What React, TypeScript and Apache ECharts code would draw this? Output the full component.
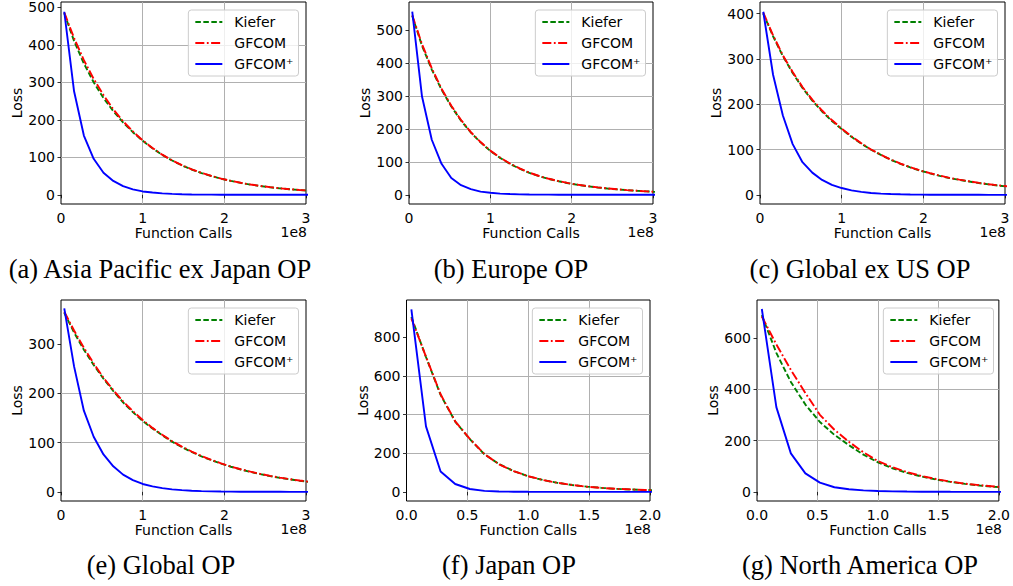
import React, { useEffect, useRef } from "react";
import * as echarts from "echarts";

// ---- data (function calls in units of 1e8) ----
const callsE8 = [
  0.04, 0.16, 0.28, 0.40, 0.52, 0.64, 0.76, 0.88, 1.00, 1.12, 1.24, 1.36, 1.48,
  1.60, 1.72, 1.84, 1.96, 2.08, 2.20, 2.32, 2.44, 2.56, 2.68, 2.80, 2.92, 3.04,
];
const seriesNames = ["Kiefer", "GFCOM", "GFCOM\u207A"];
const captions = [
  "(a) Asia Pacific ex Japan OP",
  "(b) Europe OP",
  "(c) Global ex US OP",
  "(e) Global OP",
  "(f) Japan OP",
  "(g) North America OP",
];

// (a) Asia Pacific ex Japan OP
const kieferA = [484, 410, 350, 300, 258, 223, 193, 167, 144, 124, 106.5, 91.5, 78.5, 67.5, 58, 50, 43, 37, 31.7, 27.2, 23.4, 20.1, 17.2, 14.8, 12.7, 11];
const gfcomA = [486, 418, 359, 309, 266, 228, 196, 169, 145, 125, 107, 92, 79, 68, 58.6, 50.4, 43.3, 37.2, 32, 27.5, 23.7, 20.4, 17.5, 15, 12.9, 11.1];
const gfcomPlusA = [488, 276, 158, 96, 59, 37, 23, 14.5, 9, 6, 3.8, 2.4, 1.5, 1, 0.6, 0.4, 0.25, 0.15, 0.1, 0.06, 0.04, 0.03, 0.02, 0.01, 0.01, 0];

// (b) Europe OP
const kieferB = [543, 452, 380, 319, 268, 225, 189, 159, 133, 112, 94, 79, 66.5, 56.5, 48, 41, 35, 30, 25.8, 22.1, 19, 16.3, 14, 12, 10.2, 8.7];
const gfcomB = [545, 457, 384, 322, 270, 227, 190, 160, 134, 113, 95, 80, 67, 57, 48.5, 41.5, 35.5, 30.5, 26.2, 22.5, 19.3, 16.6, 14.2, 12.2, 10.4, 8.9];
const gfcomPlusB = [556, 298, 167, 94, 51, 29, 17, 9.5, 6, 3.5, 2.2, 1.3, 0.8, 0.5, 0.3, 0.2, 0.12, 0.08, 0.05, 0.03, 0.02, 0.01, 0.01, 0.01, 0, 0];

// (c) Global ex US OP
const kieferC = [400, 350, 306, 269, 236, 208, 184, 163, 145, 128, 113, 99.5, 88, 77.5, 68.5, 60.5, 53.5, 47.5, 42, 37, 33, 29.5, 26, 23, 20.5, 18];
const gfcomC = [402, 352, 308, 271, 238, 210, 186, 165, 146, 129, 114, 100, 88.5, 78, 69, 61, 54, 48, 42.5, 37.5, 33.5, 30, 26.5, 23.5, 21, 18.5];
const gfcomPlusC = [404, 265, 175, 112, 72, 49, 33, 22, 15, 10, 6.5, 4.2, 2.8, 1.8, 1.2, 0.8, 0.5, 0.35, 0.25, 0.15, 0.1, 0.07, 0.05, 0.03, 0.02, 0.01];

// (e) Global OP
const kieferE = [364, 324, 289, 258, 230, 205, 182, 162, 144, 129, 115, 102, 91, 81, 72, 64.5, 57.5, 51, 45.5, 40.5, 36, 32, 28.5, 25.5, 22.7, 20.2];
const gfcomE = [366, 328, 293, 261, 232, 207, 184, 164, 146, 130, 116, 103, 92, 82, 73, 65, 58, 51.5, 46, 41, 36.5, 32.5, 29, 25.8, 23, 20.5];
const gfcomPlusE = [373, 255, 165, 112, 76, 52, 35, 24, 16, 11, 7.5, 5, 3.5, 2.3, 1.5, 1, 0.65, 0.45, 0.3, 0.2, 0.13, 0.09, 0.06, 0.04, 0.03, 0.02];

// (f) Japan OP
const kieferF = [905, 698, 502, 364, 273, 195, 144, 108, 81, 61.5, 47, 36, 27.5, 21, 16, 12.5, 10, 8];
const gfcomF = [898, 700, 505, 365, 275, 196, 143, 108, 81, 62, 47, 36, 27, 21, 16, 13, 10, 8];
const gfcomPlusF = [944, 339, 106, 41, 15, 5.5, 2.5, 1.2, 0.6, 0.3, 0.2, 0.1, 0.06, 0.04, 0.02, 0.01, 0.01, 0];

// (g) North America OP
const kieferG = [688, 541, 428, 340, 272, 222, 182, 145, 115, 92, 74, 60, 48, 39, 31, 25, 20, 16];
const gfcomG = [683, 574, 475, 385, 300, 242, 195, 154, 120, 96, 77, 62, 50, 40, 32, 26, 21, 17];
const gfcomPlusG = [712, 330, 150, 72, 36, 18, 10, 6, 3.5, 2, 1.3, 0.8, 0.5, 0.3, 0.2, 0.12, 0.08, 0.05];

// y tick values per panel
const yTicksA = [0, 100, 200, 300, 400, 500];
const yTicksB = [0, 100, 200, 300, 400, 500];
const yTicksC = [0, 100, 200, 300, 400];
const yTicksE = [0, 100, 200, 300];
const yTicksF = [0, 200, 400, 600, 800];
const yTicksG = [0, 200, 400, 600];

const panels = [
  { kiefer: kieferA, gfcom: gfcomA, plus: gfcomPlusA, yTicks: yTicksA, yMin: -24.5, yMax: 514, xMax: 3, xStep: 1, decimals: 0 },
  { kiefer: kieferB, gfcom: gfcomB, plus: gfcomPlusB, yTicks: yTicksB, yMin: -28, yMax: 585, xMax: 3, xStep: 1, decimals: 0 },
  { kiefer: kieferC, gfcom: gfcomC, plus: gfcomPlusC, yTicks: yTicksC, yMin: -20.2, yMax: 425.5, xMax: 3, xStep: 1, decimals: 0 },
  { kiefer: kieferE, gfcom: gfcomE, plus: gfcomPlusE, yTicks: yTicksE, yMin: -18.6, yMax: 390, xMax: 3, xStep: 1, decimals: 0 },
  { kiefer: kieferF, gfcom: gfcomF, plus: gfcomPlusF, yTicks: yTicksF, yMin: -47, yMax: 993, xMax: 2, xStep: 0.5, decimals: 1 },
  { kiefer: kieferG, gfcom: gfcomG, plus: gfcomPlusG, yTicks: yTicksG, yMin: -35.5, yMax: 747, xMax: 2, xStep: 0.5, decimals: 1 },
];

// layout (pixels)
const layout = [
  { left: 61, top: 2, width: 245, height: 202, capX: 160, capY: 269 },
  { left: 409, top: 2, width: 244, height: 202, capX: 511, capY: 269 },
  { left: 760, top: 2, width: 245, height: 202, capX: 860, capY: 269 },
  { left: 61, top: 300, width: 245, height: 201, capX: 161, capY: 565 },
  { left: 406.5, top: 300, width: 243.5, height: 201, capX: 509, capY: 565 },
  { left: 757, top: 300, width: 244, height: 201, capX: 860, capY: 565 },
];

const W = 1013;
const H = 586;
const SANS = "DejaVu Sans";
const SERIF = "Liberation Serif";
const FS = 14;

const styles = [
  { color: "#008000", type: [5.5, 2.5] },
  { color: "#ff0000", type: [9, 2.5, 1.8, 2.5] },
  { color: "#0000ff", type: "solid" },
];

function pairs(values: number[]) {
  return values.map((v, i) => [callsE8[i], v]);
}

function buildOption() {
  const grid: any[] = [];
  const xAxis: any[] = [];
  const yAxis: any[] = [];
  const series: any[] = [];
  const legend: any[] = [];
  const graphic: any[] = [];

  panels.forEach((p, i) => {
    const L = layout[i];
    grid.push({
      left: L.left,
      top: L.top,
      width: L.width,
      height: L.height,
      show: true,
      borderColor: "#000",
      borderWidth: 1,
      backgroundColor: "transparent",
    });
    xAxis.push({
      type: "value",
      gridIndex: i,
      min: 0,
      max: p.xMax,
      interval: p.xStep,
      name: "Function Calls",
      nameLocation: "middle",
      nameGap: 21,
      nameTextStyle: { fontFamily: SANS, fontSize: FS, color: "#000" },
      axisLine: { show: false },
      axisTick: { show: true, inside: false, length: 3.5, lineStyle: { color: "#000", width: 0.8 } },
      axisLabel: {
        margin: 7,
        fontFamily: SANS,
        fontSize: FS,
        lineHeight: 14,
        color: "#000",
        formatter: (v: number) => v.toFixed(p.decimals),
      },
      splitLine: { show: true, showMinLine: false, showMaxLine: false, lineStyle: { color: "#b0b0b0", width: 1 } },
    });
    yAxis.push({
      type: "value",
      gridIndex: i,
      min: p.yMin,
      max: p.yMax,
      minInterval: p.yTicks[1] - p.yTicks[0],
      maxInterval: p.yTicks[1] - p.yTicks[0],
      name: "Loss",
      nameLocation: "middle",
      nameGap: 36,
      nameTextStyle: { fontFamily: SANS, fontSize: FS, color: "#000" },
      axisLine: { show: false },
      axisTick: {
        show: true,
        inside: false,
        length: 3.5,
        customValues: p.yTicks,
        lineStyle: { color: "#000", width: 0.8 },
      },
      axisLabel: {
        margin: 6,
        fontFamily: SANS,
        fontSize: FS,
        color: "#000",
        customValues: p.yTicks,
        formatter: (v: number) => (p.yTicks.indexOf(v) >= 0 ? String(v) : ""),
      },
      splitLine: { show: true, showMinLine: false, showMaxLine: false, lineStyle: { color: "#b0b0b0", width: 1 } },
    });

    const data = [p.kiefer, p.gfcom, p.plus];
    data.forEach((vals, k) => {
      series.push({
        type: "line",
        name: seriesNames[k],
        xAxisIndex: i,
        yAxisIndex: i,
        data: pairs(vals),
        showSymbol: false,
        symbol: "none",
        clip: true,
        color: styles[k].color,
        itemStyle: { color: styles[k].color },
        lineStyle: { color: styles[k].color, width: 1.9, type: styles[k].type },
        z: 2 + k,
      });
    });

    legend.push({
      orient: "vertical",
      right: W - (L.left + L.width) + 7.5,
      top: L.top + 8,
      data: seriesNames,
      itemWidth: 27,
      itemHeight: 14,
      itemGap: 7,
      padding: [5, 5, 5, 6],
      backgroundColor: "rgba(255,255,255,0.8)",
      borderColor: "#cccccc",
      borderWidth: 1,
      borderRadius: 3,
      selectedMode: false,
      itemStyle: { opacity: 0 },
      textStyle: { fontFamily: SANS, fontSize: FS, color: "#000", padding: [0, 0, 0, 7] },
    });

    graphic.push({
      type: "text",
      right: W - (L.left + L.width) - 1,
      top: L.top + L.height + 21,
      style: { text: "1e8", fontFamily: SANS, fontSize: FS, lineHeight: 14, fill: "#000" },
    });
    graphic.push({
      type: "text",
      x: L.capX,
      y: L.capY,
      style: {
        text: captions[i],
        fontFamily: SERIF,
        fontSize: 26.5,
        fill: "#000",
        align: "center",
        verticalAlign: "middle",
      },
    });
  });

  return {
    animation: false,
    backgroundColor: "#ffffff",
    grid,
    xAxis,
    yAxis,
    series,
    legend,
    graphic,
  };
}

export default function App() {
  const ref = useRef<HTMLDivElement>(null);
  useEffect(() => {
    document.body.style.margin = "0";
    if (!ref.current) return;
    const chart = echarts.init(ref.current, undefined, { renderer: "svg" });
    chart.setOption(buildOption() as any);
    return () => chart.dispose();
  }, []);
  return <div ref={ref} style={{ width: W, height: H }} />;
}
